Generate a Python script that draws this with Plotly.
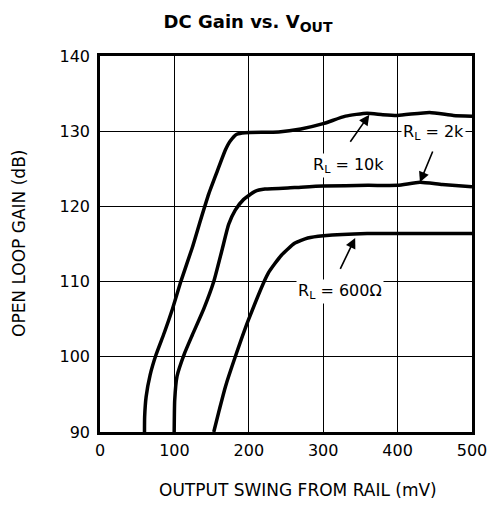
import plotly.graph_objects as go

# Output swing from rail (mV) and open-loop gain (dB) for each load
x_10k = [59.8, 60, 62, 67.4, 75.4, 86.4, 97.5, 108.6, 124, 135.2, 146.3, 157.3, 168.5, 175.1, 183.9, 195,
         240, 270, 300, 330, 359, 380, 400, 443, 475, 500]
y_10k = [90, 92, 94.7, 97.6, 100.3, 103.2, 106.4, 110, 114.5, 118.2, 121.7, 124.6, 127.5, 128.7, 129.6, 129.8,
         129.9, 130.3, 131.0, 132.0, 132.4, 132.2, 132.1, 132.5, 132.1, 132.0]

x_2k = [99.7, 100.4, 103.5, 113, 124.1, 139.6, 152.9, 164, 172.9, 181.8, 192.8, 208.4, 221.7, 261.5,
        300, 360, 400, 430, 460, 500]
y_2k = [90, 94.2, 97.4, 100.3, 102.9, 106.4, 110, 114.2, 117.6, 119.5, 120.9, 122.0, 122.3, 122.5,
        122.7, 122.8, 122.8, 123.2, 122.9, 122.6]

x_600 = [152.9, 160.5, 168.5, 181.8, 199.5, 226, 243.8, 261.5, 279.3, 300.5, 359, 400, 500]
y_600 = [90, 93, 96, 100, 104.9, 111.1, 113.5, 115.1, 115.8, 116.1, 116.4, 116.4, 116.4]

x_ticks = [0, 100, 200, 300, 400, 500]
y_ticks = [90, 100, 110, 120, 130, 140]

# Labels: (text, text_x, text_y, arrow_head_x, arrow_head_y, arrow_tail_x, arrow_tail_y)
labels = [
    ("R<sub>L</sub> = 10k", 334, 125.4, 362, 132.2, 335, 128.4),
    ("R<sub>L</sub> = 2k", 448, 129.8, 430, 123.2, 448, 127.5),
    ("R<sub>L</sub> = 600Ω", 322, 108.75, 343, 115.8, 322, 111.5),
]

FONT = "DejaVu Sans, Arial, sans-serif"

fig = go.Figure()
for xs, ys in [(x_10k, y_10k), (x_2k, y_2k), (x_600, y_600)]:
    fig.add_trace(go.Scatter(x=xs, y=ys, mode="lines",
                             line=dict(color="black", width=3.5, shape="spline", smoothing=0.5),
                             showlegend=False, hoverinfo="skip"))

annotations = []
for text, tx, ty, hx, hy, ax, ay in labels:
    annotations.append(dict(x=tx, y=ty, xref="x", yref="y", text=text, showarrow=False,
                            font=dict(family=FONT, size=16, color="black"),
                            bgcolor="white", borderpad=1))
    annotations.append(dict(x=hx, y=hy, xref="x", yref="y", ax=ax, ay=ay, axref="x", ayref="y",
                            text="", showarrow=True, arrowhead=2, arrowsize=1.3, arrowwidth=1.6,
                            arrowcolor="black", standoff=0))

# Axis titles as annotations for precise placement
annotations.append(dict(text="OUTPUT SWING FROM RAIL (mV)", xref="paper", yref="paper",
                        x=(300 - 100) / 376, y=0, yshift=-58, showarrow=False,
                        xanchor="center", yanchor="middle",
                        font=dict(family=FONT, size=17, color="black")))
annotations.append(dict(text="OPEN LOOP GAIN (dB)", xref="paper", yref="paper",
                        x=0, y=0.5, xshift=-81, showarrow=False, textangle=-90,
                        xanchor="center", yanchor="middle",
                        font=dict(family=FONT, size=17, color="black")))

fig.update_layout(
    width=499, height=505,
    margin=dict(l=100, r=23, t=56, b=73),
    paper_bgcolor="white", plot_bgcolor="white",
    font=dict(family=FONT, size=16, color="black"),
    title=dict(text="<b>DC Gain vs. V<sub><span style='font-size:14px'>OUT</span></sub></b>",
               x=248 / 499, xanchor="center",
               y=1 - 22 / 505, yanchor="middle", font=dict(family=FONT, size=18)),
    annotations=annotations,
)
fig.update_xaxes(range=[0, 500], tickvals=x_ticks, ticktext=[str(v) for v in x_ticks],
                 showgrid=True, gridcolor="black", gridwidth=1,
                 showline=True, linecolor="black", linewidth=2.5, mirror=True,
                 zeroline=False, ticks="", ticklabelstandoff=2,
                 tickfont=dict(family=FONT, size=16))
fig.update_yaxes(range=[90, 140], tickvals=y_ticks, ticktext=[str(v) for v in y_ticks],
                 showgrid=True, gridcolor="black", gridwidth=1,
                 showline=True, linecolor="black", linewidth=2.5, mirror=True,
                 zeroline=False, ticks="", ticklabelstandoff=4,
                 tickfont=dict(family=FONT, size=16))

fig.write_html("out.html")
